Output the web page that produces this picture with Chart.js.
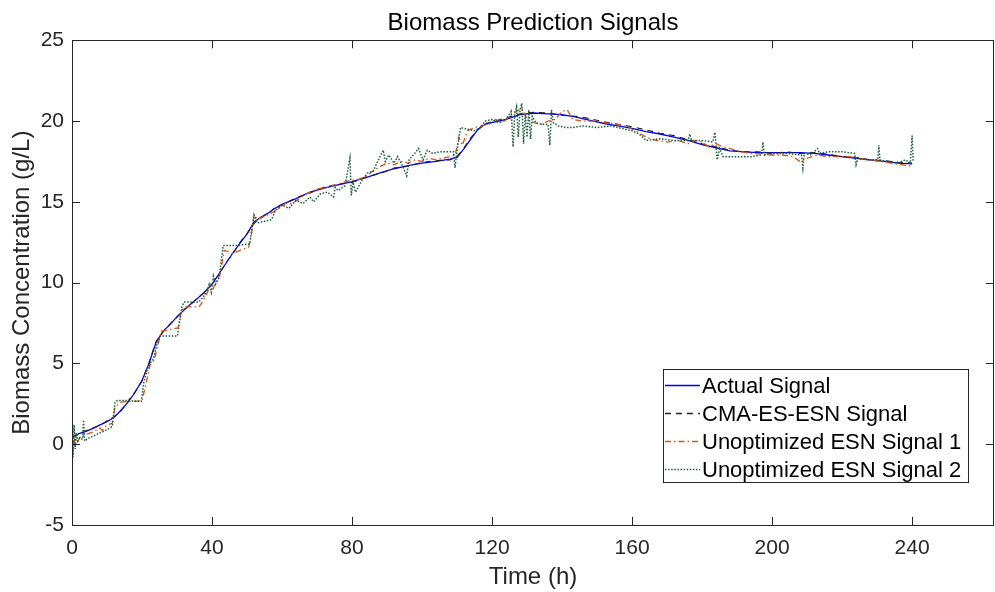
<!DOCTYPE html>
<html>
<head>
<meta charset="utf-8">
<title>Biomass Prediction Signals</title>
<script src="https://cdn.jsdelivr.net/npm/chart.js@4/dist/chart.umd.min.js"></script>
<style>
  html, body { margin: 0; padding: 0; background: #ffffff; }
  #plot { display: block; }
</style>
</head>
<body>
<canvas id="plot" width="995" height="592"></canvas>
<script>
// ---- Data -------------------------------------------------------------
// Sampling times (h) shared by the measured and CMA-ES-ESN signals
const actualTime = [
  0, 2, 4, 6, 8, 10, 12, 14, 16, 18,
  20, 22, 24, 26, 28, 30, 32, 34, 36, 38,
  40, 42, 44, 46, 48, 50, 52, 54, 56, 58,
  60, 64, 68, 72, 76, 80, 84, 88, 92, 96,
  100, 104, 108, 110, 112, 114, 116, 118, 120, 124,
  128, 132, 136, 140, 144, 148, 152, 156, 160, 164,
  168, 172, 176, 180, 184, 188, 192, 196, 200, 204,
  208, 212, 216, 220, 224, 228, 232, 236, 240
];
// Measured biomass (g/L)
const actualValues = [
  0.4, 0.65, 0.8, 0.98, 1.2, 1.4, 1.65, 2.1, 2.6, 3.2,
  3.95, 5.0, 6.3, 7.0, 7.4, 7.9, 8.3, 8.7, 9.05, 9.45,
  9.9, 10.55, 11.2, 11.85, 12.45, 13.0, 13.75, 14.05, 14.3, 14.6,
  14.85, 15.2, 15.6, 15.85, 16.05, 16.25, 16.5, 16.8, 17.05, 17.25,
  17.4, 17.5, 17.65, 17.75, 18.3, 18.9, 19.5, 19.8, 19.9, 20.1,
  20.4, 20.5, 20.45, 20.4, 20.25, 20.05, 19.85, 19.7, 19.55, 19.35,
  19.2, 19.0, 18.8, 18.55, 18.35, 18.15, 18.1, 18.05, 18.05, 18.05,
  18.05, 18.0, 17.9, 17.8, 17.7, 17.6, 17.5, 17.4, 17.35
];
// CMA-ES optimised ESN prediction (g/L)
const cmaValues = [
  0.5, 0.6, 0.85, 1.0, 1.15, 1.45, 1.7, 2.05, 2.65, 3.25,
  3.9, 5.05, 6.35, 6.95, 7.45, 7.85, 8.35, 8.65, 9.1, 9.4,
  9.95, 10.5, 11.25, 11.8, 12.5, 13.05, 13.65, 14.05, 14.25, 14.65,
  14.8, 15.25, 15.55, 15.9, 16.1, 16.2, 16.55, 16.75, 17.1, 17.2,
  17.45, 17.55, 17.6, 17.8, 18.35, 19.0, 19.45, 19.85, 19.95, 20.2,
  20.45, 20.55, 20.5, 20.35, 20.3, 20.15, 19.95, 19.8, 19.65, 19.45,
  19.25, 19.1, 18.85, 18.6, 18.4, 18.2, 18.1, 18.1, 18.0, 18.1,
  18.0, 18.05, 17.95, 17.8, 17.75, 17.6, 17.55, 17.45, 17.4
];
// Unoptimised ESN, run 1
const esn1Time = [
  0, 0.3, 0.8, 1.5, 2.5, 4, 6, 8, 8.7, 10,
  11.5, 12.3, 14, 16, 18, 20, 21, 22.3, 23.5, 24.5,
  25.5, 28, 30.3, 31.3, 32.5, 34, 36.3, 37.5, 38.7, 39.5,
  40.3, 41, 42.3, 43.5, 46, 48, 50.5, 51.5, 52, 53,
  55, 57, 59, 61, 63, 65, 67, 70, 73, 76,
  79, 82, 84, 86, 88, 90, 92, 94, 96, 98,
  100, 102, 104, 106, 108, 109.5, 110.5, 111.5, 113, 115,
  117, 119, 121, 123, 125, 127, 128.5, 130, 132, 134,
  136, 138, 140, 141.5, 143, 146, 149, 152, 155, 158,
  161, 164, 167, 170, 173, 176, 178, 180, 182, 184,
  186, 188, 191, 194, 197, 200, 203, 206, 208, 210,
  213, 216, 219, 222, 225, 228, 231, 234, 237, 240
];
const esn1Values = [
  0.3, -0.3, 0.4, 0.1, 0.5, 0.6, 0.75, 1.0, 0.85, 1.2,
  1.3, 2.3, 2.6, 2.65, 2.65, 2.7, 3.6, 4.9, 5.2, 6.1,
  7.0, 7.1, 7.2, 8.3, 8.5, 8.5, 8.5, 8.9, 9.4, 9.8,
  9.6, 10.0, 10.5, 12.0, 11.8, 12.0, 12.2, 13.3, 14.2, 13.9,
  14.1, 14.3, 14.6, 14.9, 14.9, 15.2, 15.5, 15.8, 15.9, 16.1,
  16.3, 16.4, 16.6, 16.9, 17.2, 17.4, 17.3, 17.5, 17.4, 17.6,
  17.5, 17.7, 17.6, 17.7, 17.8, 17.9, 19.0, 18.5, 19.4, 19.6,
  19.7, 19.8, 20.1, 19.9, 20.3, 20.6, 20.8, 20.1, 19.9, 19.8,
  20.0, 20.1, 20.6, 20.7, 20.1, 20.0, 20.0, 19.9, 19.8, 19.7,
  19.4, 19.0, 18.8, 18.7, 18.8, 18.6, 18.8, 18.7, 18.4, 18.6,
  18.4, 18.3, 18.1, 18.0, 17.95, 17.9, 17.9, 17.8, 17.5, 17.7,
  17.9, 17.8, 17.8, 17.8, 17.7, 17.6, 17.5, 17.4, 17.3, 17.2
];
// Unoptimised ESN, run 2
const esn2Time = [
  0, 0.3, 0.6, 0.9, 1.2, 1.6, 2.2, 3.0, 3.3, 3.6,
  4.5, 6, 8, 10, 11.5, 12.3, 13, 16, 19.8, 20.5,
  21.5, 22.3, 23.3, 24.3, 25.3, 28, 30.1, 31.4, 32, 36.1,
  37.5, 38.6, 39.2, 39.8, 40.4, 41, 42, 43.2, 47, 50.8,
  51.5, 52, 53, 55, 57, 58, 60, 62, 64, 66,
  68, 69, 71, 73, 74.7, 75.2, 76, 78, 79.4, 79.8,
  80.3, 81, 83, 84.5, 86, 88.9, 89.5, 90.5, 92, 93,
  94.5, 95.6, 96.3, 97.5, 99, 100.3, 101.5, 103, 105, 107,
  109, 109.4, 110.2, 111, 113, 115, 116.7, 118, 120, 122,
  124, 125.5, 126, 126.5, 127, 127.5, 128, 128.5, 129, 129.5,
  130, 130.5, 131, 131.5, 132.5, 134, 136, 136.5, 137, 137.5,
  139, 141, 143, 146, 150, 154, 158, 160, 162, 164,
  168, 172, 176, 176.5, 177, 180, 183, 183.7, 184.3, 185,
  186, 190, 194, 197, 197.4, 197.8, 200, 204, 208.4, 208.8,
  209.2, 211, 213, 213.5, 216, 220, 223.6, 224, 224.5, 227,
  230.2, 230.5, 230.8, 233, 236, 238, 239.5, 240, 240.3
];
const esn2Values = [
  1.9, -0.8, 1.2, -0.3, 0.7, 0.2, 0.4, 0.3, 1.5, 0.2,
  0.35, 0.5, 0.7, 0.9, 1.1, 2.6, 2.7, 2.7, 2.65, 3.8,
  4.6, 5.0, 5.3, 6.2, 6.7, 6.7, 6.7, 8.5, 8.8, 8.8,
  9.1, 9.5, 9.9, 9.4, 10.4, 9.9, 10.3, 12.3, 12.3, 12.4,
  13.5, 14.2, 13.7, 13.8, 13.9, 14.4, 14.8, 14.6, 15.1, 14.9,
  15.3, 15.0, 15.5, 15.6, 15.3, 15.9, 15.7, 16.0, 17.7, 15.4,
  16.2, 15.6, 16.4, 16.8, 16.9, 18.2, 17.5, 17.9, 17.4, 17.8,
  17.2, 16.6, 17.6, 17.9, 18.3, 17.6, 18.2, 18.0, 18.1, 18.1,
  18.1, 17.1, 18.5, 19.6, 19.5, 19.4, 19.6, 20.0, 20.1, 19.9,
  20.1, 20.6, 18.4, 20.5, 20.9, 19.0, 20.7, 21.1, 18.6, 20.4,
  19.0, 20.7, 18.9, 20.3, 19.9, 19.8, 19.8, 18.5, 20.7, 19.9,
  19.7, 19.6, 19.6, 19.7, 19.6, 19.7, 19.5, 19.4, 19.2, 18.8,
  18.9, 18.8, 18.8, 19.2, 18.8, 18.8, 18.7, 19.3, 17.6, 18.3,
  17.8, 17.8, 17.8, 17.9, 18.7, 17.9, 18.0, 18.0, 17.9, 17.1,
  18.0, 17.9, 18.3, 18.0, 18.1, 18.1, 18.0, 17.3, 17.7, 17.6,
  17.6, 18.5, 17.6, 17.5, 17.4, 17.6, 17.4, 19.1, 17.5
];
// Axis tick labels
const timeTicks = [0, 40, 80, 120, 160, 200, 240];
const biomassTicks = [-5, 0, 5, 10, 15, 20, 25];
const seriesNames = ['Actual Signal', 'CMA-ES-ESN Signal', 'Unoptimized ESN Signal 1', 'Unoptimized ESN Signal 2'];

// ---- Helpers ----------------------------------------------------------
const FONT = '"Liberation Sans", Arial, Helvetica, sans-serif';
const INK = '#262626';
const toPoints = (ts, vs) => ts.map((t, i) => ({ x: t, y: vs[i] }));

// Box around the plot area with inward tick marks on all four sides
const axesBox = {
  id: 'axesBox',
  afterDatasetsDraw(chart) {
    const { ctx, chartArea: a, scales: { x, y } } = chart;
    const len = 8;
    ctx.save();
    ctx.strokeStyle = INK;
    ctx.lineWidth = 1;
    ctx.beginPath();
    ctx.rect(Math.round(a.left) + 0.5, Math.round(a.top) + 0.5,
             Math.round(a.right - a.left) - 1, Math.round(a.bottom - a.top));
    ctx.stroke();
    ctx.beginPath();
    x.ticks.forEach(t => {
      const px = Math.round(x.getPixelForValue(t.value)) + 0.5;
      ctx.moveTo(px, a.bottom); ctx.lineTo(px, a.bottom - len);
      ctx.moveTo(px, a.top); ctx.lineTo(px, a.top + len);
    });
    y.ticks.forEach(t => {
      const py = Math.round(y.getPixelForValue(t.value)) + 0.5;
      ctx.moveTo(a.left, py); ctx.lineTo(a.left + len, py);
      ctx.moveTo(a.right, py); ctx.lineTo(a.right - len, py);
    });
    ctx.stroke();
    ctx.restore();
  }
};

// Boxed legend in the lower right of the plot area
const boxLegend = {
  id: 'boxLegend',
  afterDraw(chart, args, opts) {
    const { ctx } = chart;
    const { left, top, width, height, rowStart, rowGap, lineLen, textGap, fontSize } = opts;
    ctx.save();
    ctx.fillStyle = '#ffffff';
    ctx.fillRect(left, top, width, height);
    ctx.strokeStyle = INK;
    ctx.lineWidth = 1;
    ctx.strokeRect(left + 0.5, top + 0.5, width, height);
    ctx.font = `${fontSize}px ${FONT}`;
    ctx.textBaseline = 'middle';
    ctx.textAlign = 'left';
    // legend rows follow dataset index order
    chart.data.datasets.forEach((ds, i) => {
      const yy = Math.round(top + rowStart + i * rowGap) + 0.5;
      ctx.strokeStyle = ds.borderColor;
      ctx.lineWidth = Math.max(1.3, ds.borderWidth);
      ctx.setLineDash(ds.borderDash || []);
      ctx.beginPath();
      ctx.moveTo(left + 2, yy);
      ctx.lineTo(left + 2 + lineLen, yy);
      ctx.stroke();
      ctx.setLineDash([]);
      ctx.fillStyle = '#000000';
      ctx.fillText(ds.label, left + 2 + lineLen + textGap, yy + 1);
    });
    ctx.restore();
  }
};

// ---- Chart ------------------------------------------------------------
new Chart(document.getElementById('plot'), {
  type: 'line',
  data: {
    datasets: [
      { label: seriesNames[0], data: toPoints(actualTime, actualValues),
        borderColor: '#0000ff', borderWidth: 1.3, borderDash: [], order: 3 },
      { label: seriesNames[1], data: toPoints(actualTime, cmaValues),
        borderColor: '#222222', borderWidth: 1.1, borderDash: [6, 5], order: 2 },
      { label: seriesNames[2], data: toPoints(esn1Time, esn1Values),
        borderColor: '#d95319', borderWidth: 1.3, borderDash: [6, 3, 1.5, 3], order: 1 },
      { label: seriesNames[3], data: toPoints(esn2Time, esn2Values),
        borderColor: '#1b5e3b', borderWidth: 1.5, borderDash: [1.5, 1.6], order: 0 }
    ]
  },
  options: {
    responsive: false,
    animation: false,
    events: [],
    elements: { point: { radius: 0 }, line: { tension: 0, fill: false } },
    layout: { padding: { left: 0, right: 1, top: 0, bottom: 0 } },
    scales: {
      x: {
        type: 'linear', min: 0, max: 263.4,
        afterBuildTicks: s => { s.ticks = timeTicks.map(v => ({ value: v })); },
        afterFit: s => { s.height = 67; },
        grid: { display: false, drawTicks: false },
        border: { display: false },
        ticks: { color: INK, font: { family: FONT, size: 21 }, padding: 11, maxRotation: 0, autoSkip: false },
        title: { display: true, text: 'Time (h)', color: INK,
                 font: { family: FONT, size: 24 }, padding: { top: 0, bottom: 0 } }
      },
      y: {
        type: 'linear', min: -5, max: 25,
        afterBuildTicks: s => { s.ticks = biomassTicks.map(v => ({ value: v })); },
        afterFit: s => { s.width = 72; },
        grid: { display: false, drawTicks: false },
        border: { display: false },
        ticks: { color: INK, font: { family: FONT, size: 21 }, padding: 8, autoSkip: false },
        title: { display: true, text: 'Biomass Concentration (g/L)', color: INK,
                 font: { family: FONT, size: 24 }, padding: { top: 8, bottom: 0 } }
      }
    },
    plugins: {
      legend: { display: false },
      tooltip: { enabled: false },
      title: {
        display: true, text: 'Biomass Prediction Signals', color: '#000000',
        fullSize: false,
        font: { family: FONT, size: 24, weight: 'normal' },
        padding: { top: 9, bottom: 2.5 }
      },
      boxLegend: { left: 663, top: 369, width: 305, height: 113,
                   rowStart: 15.5, rowGap: 28.3, lineLen: 35, textGap: 2, fontSize: 22 }
    }
  },
  plugins: [axesBox, boxLegend]
});
</script>
</body>
</html>
